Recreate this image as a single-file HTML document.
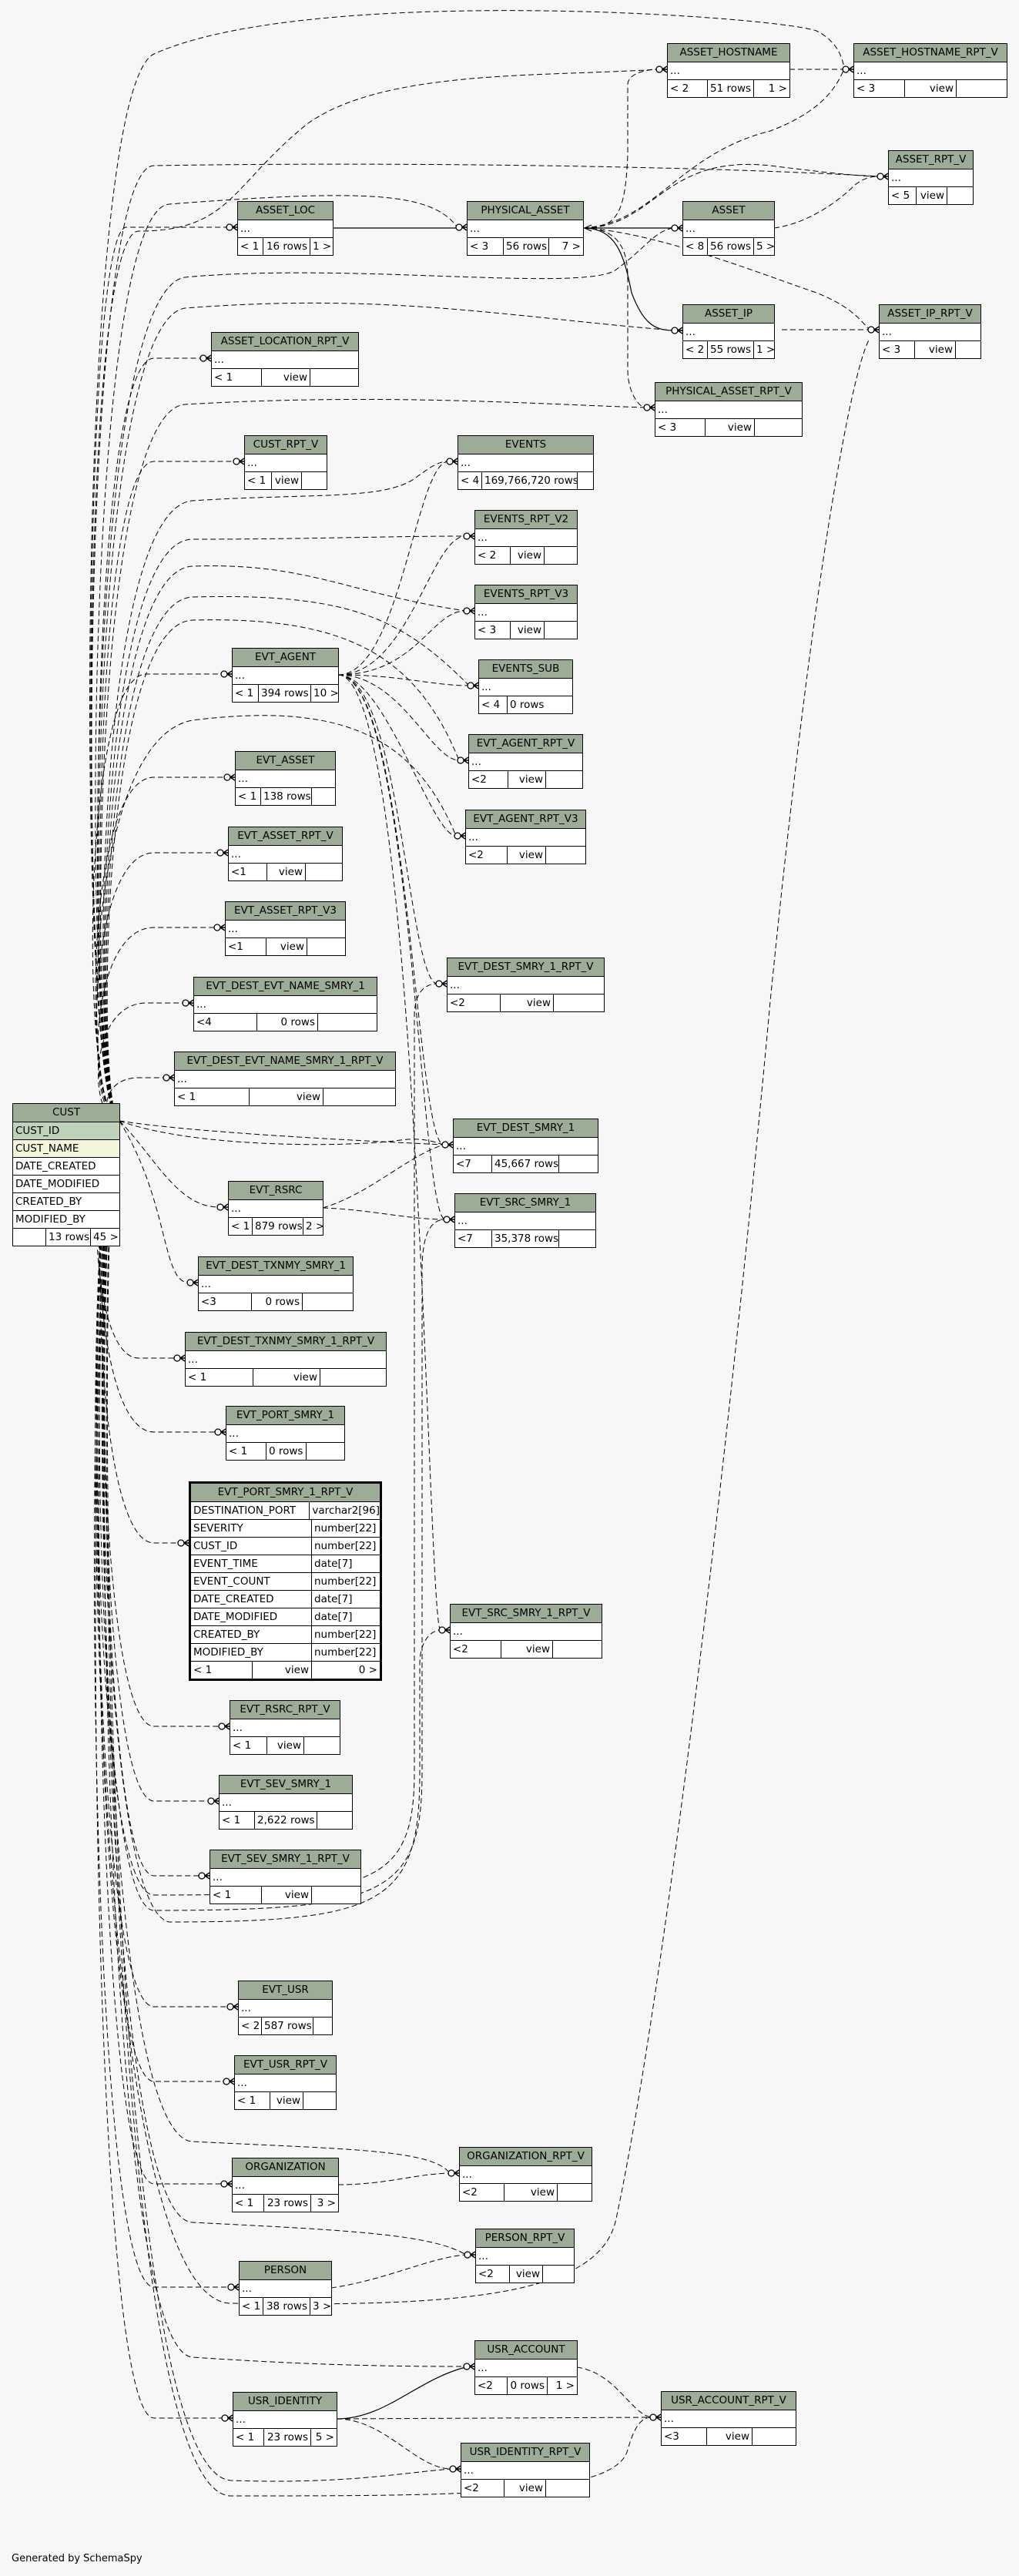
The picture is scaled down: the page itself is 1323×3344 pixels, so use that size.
<!DOCTYPE html>
<html><head><meta charset="utf-8"><style>
body{margin:0;width:1323px;height:3344px;background:#f7f7f7;position:relative;overflow:hidden;font-family:"DejaVu Sans","Liberation Sans",sans-serif;}
svg{position:absolute;left:0;top:0}
.t{position:absolute;background:#fff;border:1px solid #000;box-sizing:border-box;font-size:13.5px;color:#000}
.h{background:#9dac97;text-align:center;height:23px;line-height:22px;border-bottom:1px solid #000;white-space:nowrap;overflow:hidden}
.r{height:23px;line-height:22px;padding-left:3px;border-bottom:1px solid #000;box-sizing:border-box;white-space:nowrap;overflow:hidden}
.f{position:relative;height:22px;line-height:22px}
.f span{position:absolute;top:0;height:22px;box-sizing:border-box;white-space:nowrap;padding:0 3px}
.f .a{left:0}
.f .b{border-left:1px solid #000;text-align:right}
.f .c{border-left:1px solid #000;text-align:right}
.k{background:#bfd3bb}.n{background:#f4f6dc}
.p .r{display:flex;padding:0}
.p .r span{padding-left:3px;box-sizing:border-box}
.p .r span+span{border-left:1px solid #000}
</style></head><body>
<svg width="1323" height="3344" viewBox="0 0 1323 3344">
<defs><symbol id="cf" overflow="visible"><circle cx="-10" cy="0" r="4" fill="#fff" stroke="#000" stroke-width="1.3"/><path d="M-6,0 L0,-4 M-6,0 L0,0 M-6,0 L0,4" stroke="#000" stroke-width="1.5" fill="none"/></symbol></defs>
<g fill="none" stroke="#000" stroke-width="1" stroke-dasharray="7,4">
<path d="M155,1455 C100,1455 95,120 200,70 C400,-20 1000,20 1060,40 C1090,55 1095,80 1096,90"/>
<path d="M155,1455 C105,1455 100,300 180,300 C300,300 300,240 400,160 C500,90 700,100 854,90"/>
<path d="M155,1455 C102,1455 100,215 200,215 C500,210 900,215 1141,229"/>
<path d="M155,1455 C104,1455 104,295 164,295 L296,295"/>
<path d="M155,1455 C106,1455 106,270 220,265 C480,245 560,250 594,295"/>
<path d="M155,1455 C108,1455 108,380 240,360 C450,340 760,380 800,350 C840,320 850,300 874,296"/>
<path d="M155,1455 C110,1455 110,420 240,400 C500,380 650,410 874,429"/>
<path d="M155,1455 C112,1455 112,465 200,465 L262,465"/>
<path d="M155,1455 C114,1455 114,535 240,525 C500,510 700,525 838,529"/>
<path d="M155,1455 C116,1455 116,599 200,599 L305,599"/>
<path d="M155,1455 C118,1455 118,660 250,650 C400,640 500,650 540,620 C560,605 570,599 582,599"/>
<path d="M155,1455 C120,1455 120,700 250,700 C400,700 500,696 604,696"/>
<path d="M155,1455 C122,1455 122,740 250,735 C400,730 450,770 604,793"/>
<path d="M155,1455 C124,1455 124,780 250,775 C450,770 520,800 609,890"/>
<path d="M155,1455 C104,1455 104,875 190,875 L289,875"/>
<path d="M155,1455 C126,1455 126,810 250,805 C450,800 540,850 596,987"/>
<path d="M155,1455 C106,1455 106,960 250,935 C450,910 540,960 592,1085"/>
<path d="M155,1455 C108,1455 108,1009 200,1009 L293,1009"/>
<path d="M155,1455 C110,1455 110,1107 200,1107 L284,1107"/>
<path d="M155,1455 C112,1455 112,1204 200,1204 L280,1204"/>
<path d="M155,1455 C114,1455 114,1302 190,1302 L239,1302"/>
<path d="M155,1455 C130,1455 130,1399 180,1399 L214,1399"/>
<path d="M155,1455 C110,1455 110,2460 200,2460 C480,2460 538,2450 538,2300 L538,1320 C538,1290 550,1277 568,1277"/>
<path d="M155,1455 C250,1470 450,1480 576,1486"/>
<path d="M155,1455 C250,1490 450,1490 520,1480 C550,1476 565,1483 576,1486"/>
<path d="M155,1455 C200,1500 230,1567 284,1567"/>
<path d="M155,1455 C115,1455 115,2480 200,2480 C500,2480 548,2460 548,2300 L548,1650 C548,1600 560,1583 578,1583"/>
<path d="M155,1455 C220,1560 210,1665 245,1665"/>
<path d="M155,1455 C112,1455 112,1763 180,1763 L228,1763"/>
<path d="M155,1455 C114,1455 114,1859 200,1859 L281,1859"/>
<path d="M155,1455 C116,1455 116,2003 200,2003 L233,2003"/>
<path d="M155,1455 C118,1455 118,2480 220,2495 C500,2495 545,2470 545,2300 L545,2160 C545,2130 560,2116 572,2116"/>
<path d="M155,1455 C120,1455 120,2241 200,2241 L286,2241"/>
<path d="M155,1455 C122,1455 122,2338 200,2338 L272,2338"/>
<path d="M155,1455 C124,1455 124,2435 200,2435 L260,2435"/>
<path d="M155,1455 C110,1455 110,2605 200,2605 L297,2605"/>
<path d="M155,1455 C112,1455 112,2702 200,2702 L292,2702"/>
<path d="M155,1455 C114,1455 114,2835 200,2835 L289,2835"/>
<path d="M155,1455 C116,1455 116,2775 250,2780 C450,2790 560,2790 584,2821"/>
<path d="M155,1455 C118,1455 118,2880 250,2885 C450,2895 560,2900 605,2927"/>
<path d="M155,1455 C106,1455 106,2969 200,2969 L298,2969"/>
<path d="M155,1455 C120,1455 120,3050 250,3060 C400,3070 500,3072 604,3072"/>
<path d="M155,1455 C108,1455 108,3139 200,3139 L290,3139"/>
<path d="M155,1455 C122,1455 122,3240 300,3240 C600,3240 800,3240 815,3180 C825,3145 835,3138 846,3138"/>
<path d="M155,1455 C124,1455 124,3210 300,3220 C450,3225 520,3210 586,3205"/>
<path d="M155,1455 C100,1455 100,2990 300,2990 C600,2995 780,2980 800,2880 C860,2600 945,1900 1000,1300 C1060,700 1110,470 1129,440"/>
<path d="M757,296 C800,296 815,320 815,360 L815,480 C815,510 830,529 838,529"/>
<path d="M757,296 C800,296 812,280 815,200 L815,110 C815,95 840,90 854,90"/>
<path d="M757,296 C850,290 880,200 1000,170 C1080,140 1090,100 1096,90"/>
<path d="M757,296 C850,296 860,200 1000,215 C1080,225 1120,229 1141,229"/>
<path d="M757,296 C850,300 1000,360 1060,380 C1110,400 1120,420 1129,428"/>
<path d="M1005,296 C1050,290 1090,260 1110,240 C1120,232 1130,229 1141,229"/>
<path d="M1025,90 L1096,90"/>
<path d="M1015,428 L1129,428"/>
<path d="M439,876 C520,876 540,600 582,599"/>
<path d="M439,876 C530,876 560,696 604,696"/>
<path d="M439,876 C540,876 560,793 604,793"/>
<path d="M439,876 C520,876 560,890 609,890"/>
<path d="M439,876 C520,876 560,987 596,987"/>
<path d="M439,876 C500,876 560,1085 592,1085"/>
<path d="M439,876 C520,876 530,1277 568,1277"/>
<path d="M439,876 C530,876 540,1486 576,1486"/>
<path d="M439,876 C535,876 545,1583 578,1583"/>
<path d="M439,876 C545,876 555,2116 572,2116"/>
<path d="M419,1568 C480,1550 530,1500 576,1486"/>
<path d="M419,1568 C480,1570 530,1583 578,1583"/>
<path d="M439,2836 C500,2836 540,2822 584,2821"/>
<path d="M430,2970 C500,2960 560,2930 605,2927"/>
<path d="M437,3140 L846,3138"/>
<path d="M437,3140 C500,3140 540,3205 586,3205"/>
<path d="M749,3073 C800,3080 820,3135 846,3138"/>
</g>
<g fill="none" stroke="#000" stroke-width="1.2">
<path d="M432,296 L594,296"/>
<path d="M760,296 L874,296"/>
<path d="M757,296 C800,296 810,330 820,380 C835,420 850,429 874,429"/>
<path d="M437,3140 C500,3140 540,3090 604,3073"/>
<path d="M768,292 L759,296 L768,300"/>
</g>
<g>
<use href="#cf" x="866" y="90"/><use href="#cf" x="1108" y="90"/><use href="#cf" x="1153" y="229"/>
<use href="#cf" x="308" y="295"/><use href="#cf" x="606" y="295"/><use href="#cf" x="886" y="296"/>
<use href="#cf" x="886" y="429"/><use href="#cf" x="1141" y="428"/><use href="#cf" x="274" y="465"/>
<use href="#cf" x="850" y="529"/><use href="#cf" x="317" y="599"/><use href="#cf" x="594" y="599"/>
<use href="#cf" x="616" y="696"/><use href="#cf" x="616" y="793"/><use href="#cf" x="621" y="890"/>
<use href="#cf" x="301" y="875"/><use href="#cf" x="608" y="987"/><use href="#cf" x="604" y="1085"/>
<use href="#cf" x="305" y="1009"/><use href="#cf" x="296" y="1107"/><use href="#cf" x="292" y="1204"/>
<use href="#cf" x="251" y="1302"/><use href="#cf" x="226" y="1399"/><use href="#cf" x="580" y="1277"/>
<use href="#cf" x="588" y="1486"/><use href="#cf" x="296" y="1567"/><use href="#cf" x="590" y="1583"/>
<use href="#cf" x="257" y="1665"/><use href="#cf" x="240" y="1763"/><use href="#cf" x="293" y="1859"/>
<use href="#cf" x="245" y="2003"/><use href="#cf" x="584" y="2116"/><use href="#cf" x="298" y="2241"/>
<use href="#cf" x="284" y="2338"/><use href="#cf" x="272" y="2435"/><use href="#cf" x="309" y="2605"/>
<use href="#cf" x="304" y="2702"/><use href="#cf" x="301" y="2835"/><use href="#cf" x="596" y="2821"/>
<use href="#cf" x="617" y="2927"/><use href="#cf" x="310" y="2969"/><use href="#cf" x="616" y="3072"/>
<use href="#cf" x="858" y="3138"/><use href="#cf" x="302" y="3139"/><use href="#cf" x="598" y="3205"/>
</g>
</svg>

<div class="t" style="left:866px;top:56px;width:160px"><div class="h">ASSET_HOSTNAME</div><div class="r">...</div><div class="f"><span class="a" style="width:51px">&lt; 2</span><span class="b" style="left:51px;width:60px">51 rows</span><span class="c" style="left:111px;right:0">1 &gt;</span></div></div>
<div class="t" style="left:1108px;top:56px;width:200px"><div class="h">ASSET_HOSTNAME_RPT_V</div><div class="r">...</div><div class="f"><span class="a" style="width:65px">&lt; 3</span><span class="b" style="left:65px;width:67px">view</span><span class="c" style="left:132px;right:0"></span></div></div>
<div class="t" style="left:1153px;top:195px;width:111px"><div class="h">ASSET_RPT_V</div><div class="r">...</div><div class="f"><span class="a" style="width:35px">&lt; 5</span><span class="b" style="left:35px;width:40px">view</span><span class="c" style="left:75px;right:0"></span></div></div>
<div class="t" style="left:308px;top:261px;width:125px"><div class="h">ASSET_LOC</div><div class="r">...</div><div class="f"><span class="a" style="width:32px">&lt; 1</span><span class="b" style="left:32px;width:61px">16 rows</span><span class="c" style="left:93px;right:0">1 &gt;</span></div></div>
<div class="t" style="left:606px;top:261px;width:152px"><div class="h">PHYSICAL_ASSET</div><div class="r">...</div><div class="f"><span class="a" style="width:46px">&lt; 3</span><span class="b" style="left:46px;width:59px">56 rows</span><span class="c" style="left:105px;right:0">7 &gt;</span></div></div>
<div class="t" style="left:886px;top:261px;width:120px"><div class="h">ASSET</div><div class="r">...</div><div class="f"><span class="a" style="width:31px">&lt; 8</span><span class="b" style="left:31px;width:60px">56 rows</span><span class="c" style="left:91px;right:0">5 &gt;</span></div></div>
<div class="t" style="left:886px;top:395px;width:120px"><div class="h">ASSET_IP</div><div class="r">...</div><div class="f"><span class="a" style="width:31px">&lt; 2</span><span class="b" style="left:31px;width:60px">55 rows</span><span class="c" style="left:91px;right:0">1 &gt;</span></div></div>
<div class="t" style="left:1141px;top:395px;width:133px"><div class="h">ASSET_IP_RPT_V</div><div class="r">...</div><div class="f"><span class="a" style="width:45px">&lt; 3</span><span class="b" style="left:45px;width:53px">view</span><span class="c" style="left:98px;right:0"></span></div></div>
<div class="t" style="left:274px;top:431px;width:192px"><div class="h">ASSET_LOCATION_RPT_V</div><div class="r">...</div><div class="f"><span class="a" style="width:64px">&lt; 1</span><span class="b" style="left:64px;width:63px">view</span><span class="c" style="left:127px;right:0"></span></div></div>
<div class="t" style="left:850px;top:496px;width:192px"><div class="h">PHYSICAL_ASSET_RPT_V</div><div class="r">...</div><div class="f"><span class="a" style="width:64px">&lt; 3</span><span class="b" style="left:64px;width:64px">view</span><span class="c" style="left:128px;right:0"></span></div></div>
<div class="t" style="left:317px;top:565px;width:108px"><div class="h">CUST_RPT_V</div><div class="r">...</div><div class="f"><span class="a" style="width:34px">&lt; 1</span><span class="b" style="left:34px;width:39px">view</span><span class="c" style="left:73px;right:0"></span></div></div>
<div class="t" style="left:594px;top:565px;width:177px"><div class="h">EVENTS</div><div class="r">...</div><div class="f"><span class="a" style="width:30px">&lt; 4</span><span class="b" style="left:30px;width:124px">169,766,720 rows</span><span class="c" style="left:154px;right:0"></span></div></div>
<div class="t" style="left:616px;top:662px;width:134px"><div class="h">EVENTS_RPT_V2</div><div class="r">...</div><div class="f"><span class="a" style="width:45px">&lt; 2</span><span class="b" style="left:45px;width:44px">view</span><span class="c" style="left:89px;right:0"></span></div></div>
<div class="t" style="left:616px;top:759px;width:134px"><div class="h">EVENTS_RPT_V3</div><div class="r">...</div><div class="f"><span class="a" style="width:45px">&lt; 3</span><span class="b" style="left:45px;width:44px">view</span><span class="c" style="left:89px;right:0"></span></div></div>
<div class="t" style="left:621px;top:856px;width:123px"><div class="h">EVENTS_SUB</div><div class="r">...</div><div class="f"><span class="a" style="width:36px">&lt; 4</span><span class="b" style="left:36px;width:51px;text-align:left">0 rows</span><span class="c" style="left:87px;right:0;border-left:none"></span></div></div>
<div class="t" style="left:301px;top:841px;width:139px"><div class="h">EVT_AGENT</div><div class="r">...</div><div class="f"><span class="a" style="width:33px">&lt; 1</span><span class="b" style="left:33px;width:68px">394 rows</span><span class="c" style="left:101px;right:0">10 &gt;</span></div></div>
<div class="t" style="left:608px;top:953px;width:149px"><div class="h">EVT_AGENT_RPT_V</div><div class="r">...</div><div class="f"><span class="a" style="width:50px">&lt;2</span><span class="b" style="left:50px;width:49px">view</span><span class="c" style="left:99px;right:0"></span></div></div>
<div class="t" style="left:604px;top:1051px;width:157px"><div class="h">EVT_AGENT_RPT_V3</div><div class="r">...</div><div class="f"><span class="a" style="width:53px">&lt;2</span><span class="b" style="left:53px;width:50px">view</span><span class="c" style="left:103px;right:0"></span></div></div>
<div class="t" style="left:305px;top:975px;width:131px"><div class="h">EVT_ASSET</div><div class="r">...</div><div class="f"><span class="a" style="width:32px">&lt; 1</span><span class="b" style="left:32px;width:66px">138 rows</span><span class="c" style="left:98px;right:0"></span></div></div>
<div class="t" style="left:296px;top:1073px;width:149px"><div class="h">EVT_ASSET_RPT_V</div><div class="r">...</div><div class="f"><span class="a" style="width:49px">&lt;1</span><span class="b" style="left:49px;width:50px">view</span><span class="c" style="left:99px;right:0"></span></div></div>
<div class="t" style="left:292px;top:1170px;width:157px"><div class="h">EVT_ASSET_RPT_V3</div><div class="r">...</div><div class="f"><span class="a" style="width:52px">&lt;1</span><span class="b" style="left:52px;width:53px">view</span><span class="c" style="left:105px;right:0"></span></div></div>
<div class="t" style="left:251px;top:1268px;width:239px"><div class="h">EVT_DEST_EVT_NAME_SMRY_1</div><div class="r">...</div><div class="f"><span class="a" style="width:81px">&lt;4</span><span class="b" style="left:81px;width:79px">0 rows</span><span class="c" style="left:160px;right:0"></span></div></div>
<div class="t" style="left:226px;top:1365px;width:288px"><div class="h">EVT_DEST_EVT_NAME_SMRY_1_RPT_V</div><div class="r">...</div><div class="f"><span class="a" style="width:96px">&lt; 1</span><span class="b" style="left:96px;width:96px">view</span><span class="c" style="left:192px;right:0"></span></div></div>
<div class="t" style="left:580px;top:1243px;width:205px"><div class="h">EVT_DEST_SMRY_1_RPT_V</div><div class="r">...</div><div class="f"><span class="a" style="width:68px">&lt;2</span><span class="b" style="left:68px;width:69px">view</span><span class="c" style="left:137px;right:0"></span></div></div>
<div class="t" style="left:588px;top:1452px;width:189px"><div class="h">EVT_DEST_SMRY_1</div><div class="r">...</div><div class="f"><span class="a" style="width:49px">&lt;7</span><span class="b" style="left:49px;width:87px;text-align:left">45,667 rows</span><span class="c" style="left:136px;right:0"></span></div></div>
<div class="t" style="left:296px;top:1533px;width:124px"><div class="h">EVT_RSRC</div><div class="r">...</div><div class="f"><span class="a" style="width:30px">&lt; 1</span><span class="b" style="left:30px;width:66px">879 rows</span><span class="c" style="left:96px;right:0">2 &gt;</span></div></div>
<div class="t" style="left:590px;top:1549px;width:184px"><div class="h">EVT_SRC_SMRY_1</div><div class="r">...</div><div class="f"><span class="a" style="width:47px">&lt;7</span><span class="b" style="left:47px;width:87px;text-align:left">35,378 rows</span><span class="c" style="left:134px;right:0"></span></div></div>
<div class="t" style="left:257px;top:1631px;width:202px"><div class="h">EVT_DEST_TXNMY_SMRY_1</div><div class="r">...</div><div class="f"><span class="a" style="width:68px">&lt;3</span><span class="b" style="left:68px;width:66px">0 rows</span><span class="c" style="left:134px;right:0"></span></div></div>
<div class="t" style="left:240px;top:1729px;width:262px"><div class="h">EVT_DEST_TXNMY_SMRY_1_RPT_V</div><div class="r">...</div><div class="f"><span class="a" style="width:87px">&lt; 1</span><span class="b" style="left:87px;width:87px">view</span><span class="c" style="left:174px;right:0"></span></div></div>
<div class="t" style="left:293px;top:1825px;width:155px"><div class="h">EVT_PORT_SMRY_1</div><div class="r">...</div><div class="f"><span class="a" style="width:51px">&lt; 1</span><span class="b" style="left:51px;width:52px;text-align:left">0 rows</span><span class="c" style="left:103px;right:0"></span></div></div>
<div class="t p" style="left:245px;top:1923px;width:251px;border:3px solid #000"><div class="h">EVT_PORT_SMRY_1_RPT_V</div>
<div class="r"><span style="width:156px">DESTINATION_PORT</span><span>varchar2[96]</span></div>
<div class="r"><span style="width:156px">SEVERITY</span><span>number[22]</span></div>
<div class="r"><span style="width:156px">CUST_ID</span><span>number[22]</span></div>
<div class="r"><span style="width:156px">EVENT_TIME</span><span>date[7]</span></div>
<div class="r"><span style="width:156px">EVENT_COUNT</span><span>number[22]</span></div>
<div class="r"><span style="width:156px">DATE_CREATED</span><span>date[7]</span></div>
<div class="r"><span style="width:156px">DATE_MODIFIED</span><span>date[7]</span></div>
<div class="r"><span style="width:156px">CREATED_BY</span><span>number[22]</span></div>
<div class="r"><span style="width:156px">MODIFIED_BY</span><span>number[22]</span></div>
<div class="f"><span class="a" style="width:79px">&lt; 1</span><span class="b" style="left:79px;width:77px">view</span><span class="c" style="left:156px;right:0">0 &gt;</span></div></div>
<div class="t" style="left:584px;top:2082px;width:198px"><div class="h">EVT_SRC_SMRY_1_RPT_V</div><div class="r">...</div><div class="f"><span class="a" style="width:65px">&lt;2</span><span class="b" style="left:65px;width:67px">view</span><span class="c" style="left:132px;right:0"></span></div></div>
<div class="t" style="left:298px;top:2207px;width:144px"><div class="h">EVT_RSRC_RPT_V</div><div class="r">...</div><div class="f"><span class="a" style="width:47px">&lt; 1</span><span class="b" style="left:47px;width:48px">view</span><span class="c" style="left:95px;right:0"></span></div></div>
<div class="t" style="left:284px;top:2304px;width:174px"><div class="h">EVT_SEV_SMRY_1</div><div class="r">...</div><div class="f"><span class="a" style="width:45px">&lt; 1</span><span class="b" style="left:45px;width:81px;text-align:left">2,622 rows</span><span class="c" style="left:126px;right:0"></span></div></div>
<div class="t" style="left:272px;top:2401px;width:197px"><div class="h">EVT_SEV_SMRY_1_RPT_V</div><div class="r">...</div><div class="f"><span class="a" style="width:66px">&lt; 1</span><span class="b" style="left:66px;width:65px">view</span><span class="c" style="left:131px;right:0"></span></div></div>
<div class="t" style="left:309px;top:2571px;width:123px"><div class="h">EVT_USR</div><div class="r">...</div><div class="f"><span class="a" style="width:29px">&lt; 2</span><span class="b" style="left:29px;width:67px;text-align:left">587 rows</span><span class="c" style="left:96px;right:0"></span></div></div>
<div class="t" style="left:304px;top:2668px;width:133px"><div class="h">EVT_USR_RPT_V</div><div class="r">...</div><div class="f"><span class="a" style="width:45px">&lt; 1</span><span class="b" style="left:45px;width:43px">view</span><span class="c" style="left:88px;right:0"></span></div></div>
<div class="t" style="left:301px;top:2801px;width:139px"><div class="h">ORGANIZATION</div><div class="r">...</div><div class="f"><span class="a" style="width:40px">&lt; 1</span><span class="b" style="left:40px;width:61px">23 rows</span><span class="c" style="left:101px;right:0">3 &gt;</span></div></div>
<div class="t" style="left:596px;top:2787px;width:173px"><div class="h">ORGANIZATION_RPT_V</div><div class="r">...</div><div class="f"><span class="a" style="width:57px">&lt;2</span><span class="b" style="left:57px;width:69px">view</span><span class="c" style="left:126px;right:0"></span></div></div>
<div class="t" style="left:617px;top:2893px;width:129px"><div class="h">PERSON_RPT_V</div><div class="r">...</div><div class="f"><span class="a" style="width:43px">&lt;2</span><span class="b" style="left:43px;width:43px">view</span><span class="c" style="left:86px;right:0"></span></div></div>
<div class="t" style="left:310px;top:2935px;width:121px"><div class="h">PERSON</div><div class="r">...</div><div class="f"><span class="a" style="width:30px">&lt; 1</span><span class="b" style="left:30px;width:61px">38 rows</span><span class="c" style="left:91px;right:0">3 &gt;</span></div></div>
<div class="t" style="left:616px;top:3038px;width:134px"><div class="h">USR_ACCOUNT</div><div class="r">...</div><div class="f"><span class="a" style="width:41px">&lt;2</span><span class="b" style="left:41px;width:52px">0 rows</span><span class="c" style="left:93px;right:0">1 &gt;</span></div></div>
<div class="t" style="left:858px;top:3104px;width:176px"><div class="h">USR_ACCOUNT_RPT_V</div><div class="r">...</div><div class="f"><span class="a" style="width:58px">&lt;3</span><span class="b" style="left:58px;width:59px">view</span><span class="c" style="left:117px;right:0"></span></div></div>
<div class="t" style="left:302px;top:3105px;width:136px"><div class="h">USR_IDENTITY</div><div class="r">...</div><div class="f"><span class="a" style="width:39px">&lt; 1</span><span class="b" style="left:39px;width:61px">23 rows</span><span class="c" style="left:100px;right:0">5 &gt;</span></div></div>
<div class="t" style="left:598px;top:3171px;width:168px"><div class="h">USR_IDENTITY_RPT_V</div><div class="r">...</div><div class="f"><span class="a" style="width:55px">&lt;2</span><span class="b" style="left:55px;width:54px">view</span><span class="c" style="left:109px;right:0"></span></div></div>

<div class="t" style="left:16px;top:1432px;width:140px"><div class="h">CUST</div>
<div class="r k">CUST_ID</div><div class="r n">CUST_NAME</div><div class="r">DATE_CREATED</div><div class="r">DATE_MODIFIED</div><div class="r">CREATED_BY</div><div class="r">MODIFIED_BY</div>
<div class="f"><span class="a" style="width:42px"></span><span class="b" style="left:42px;width:58px">13 rows</span><span class="c" style="left:100px;right:0">45 &gt;</span></div></div>

<div style="position:absolute;left:15px;top:3314px;font-size:13px;font-family:'DejaVu Sans',sans-serif">Generated by SchemaSpy</div>
</body></html>
